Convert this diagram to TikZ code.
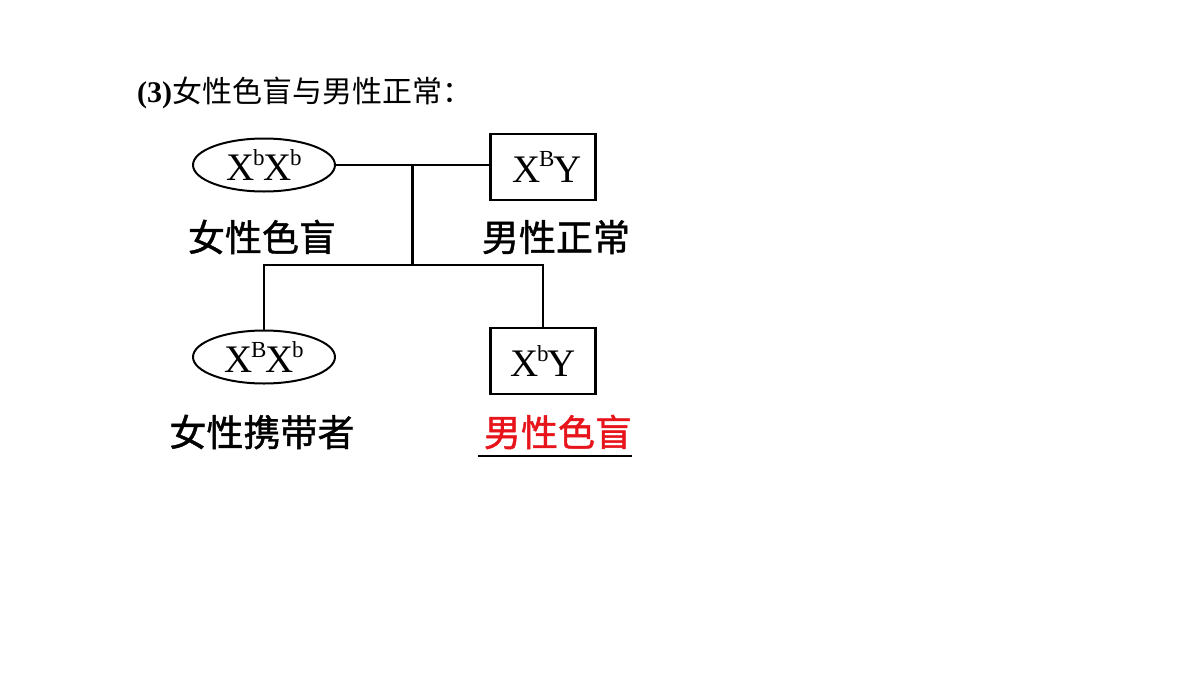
\documentclass[tikz,border=0pt]{standalone}
\usepackage{fontspec}
\setmainfont{Liberation Serif}
\newfontfamily\cjk{Noto Sans CJK SC}
\newfontfamily\cjkbold[FakeBold=1.2]{Noto Sans CJK SC}
\usepackage{xcolor}
\usetikzlibrary{calc,positioning,shapes.geometric}
\definecolor{ink}{HTML}{000000}
\definecolor{alert}{HTML}{E8141B}
\newcommand{\up}[1]{\raisebox{0.40em}{\fontsize{23}{23}\selectfont #1}}
\newcommand{\geno}[2]{X\kern-1.5pt\up{#1}\kern-1pt#2}
\tikzset{
  female/.style={ellipse,draw=ink,line width=2pt,minimum width=142pt,minimum height=53pt,
                 inner sep=0pt,font=\fontsize{39}{43}\selectfont},
  male/.style={rectangle,draw=ink,line width=2.6pt,minimum width=105pt,minimum height=66pt,
               inner sep=0pt,font=\fontsize{39}{43}\selectfont},
  tag/.style={font=\cjkbold\fontsize{37}{40}\selectfont,text=ink,inner sep=0pt},
  kin/.style={line width=2.4pt,draw=ink}
}
\begin{document}
\begin{tikzpicture}[x=1pt,y=-1pt]
  \useasboundingbox[fill=white] (0,0) rectangle (1200,675);
  \node[anchor=west,inner sep=0pt] (title) at (137,93)
    {\fontsize{30}{33}\selectfont\bfseries(3)\mdseries\cjk 女性色盲与男性正常：};
  % parents
  \node[female] (mom) at (264,165) {\geno{b}{X\kern-1.5pt\up{b}}};
  \node[male] (dad) at (543,167) {\kern8pt\geno{B}{Y}};
  \node[tag] (momtag) at (262,237) {女性色盲};
  \node[tag] (dadtag) at (556,237) {男性正常};
  % children
  \node[female] (girl) at (264,357) {\geno{B}{X\kern-1.5pt\up{b}}};
  \node[male] (boy) at (543,361) {\geno{b}{Y}};
  \node[tag] (girltag) at (262,432) {女性携带者};
  \node[tag,text=alert] (boytag) at (558,432) {男性色盲};
  % lines
  \coordinate (mate) at ($(mom.east)!0.5!(mom.east -| dad.west)$);
  \coordinate (sib) at (mate |- 0,265);
  \draw[kin] (mom.east) -- (mom.east -| dad.west);
  \draw[kin] (mate) -- (sib);
  \draw[kin] (girl.north) |- (sib) -| (boy.north);
  \draw[line width=2pt,draw=ink] ($(boytag.south west)+(-6,7)$) -- ($(boytag.south east)+(0,7)$);
\end{tikzpicture}
\end{document}
